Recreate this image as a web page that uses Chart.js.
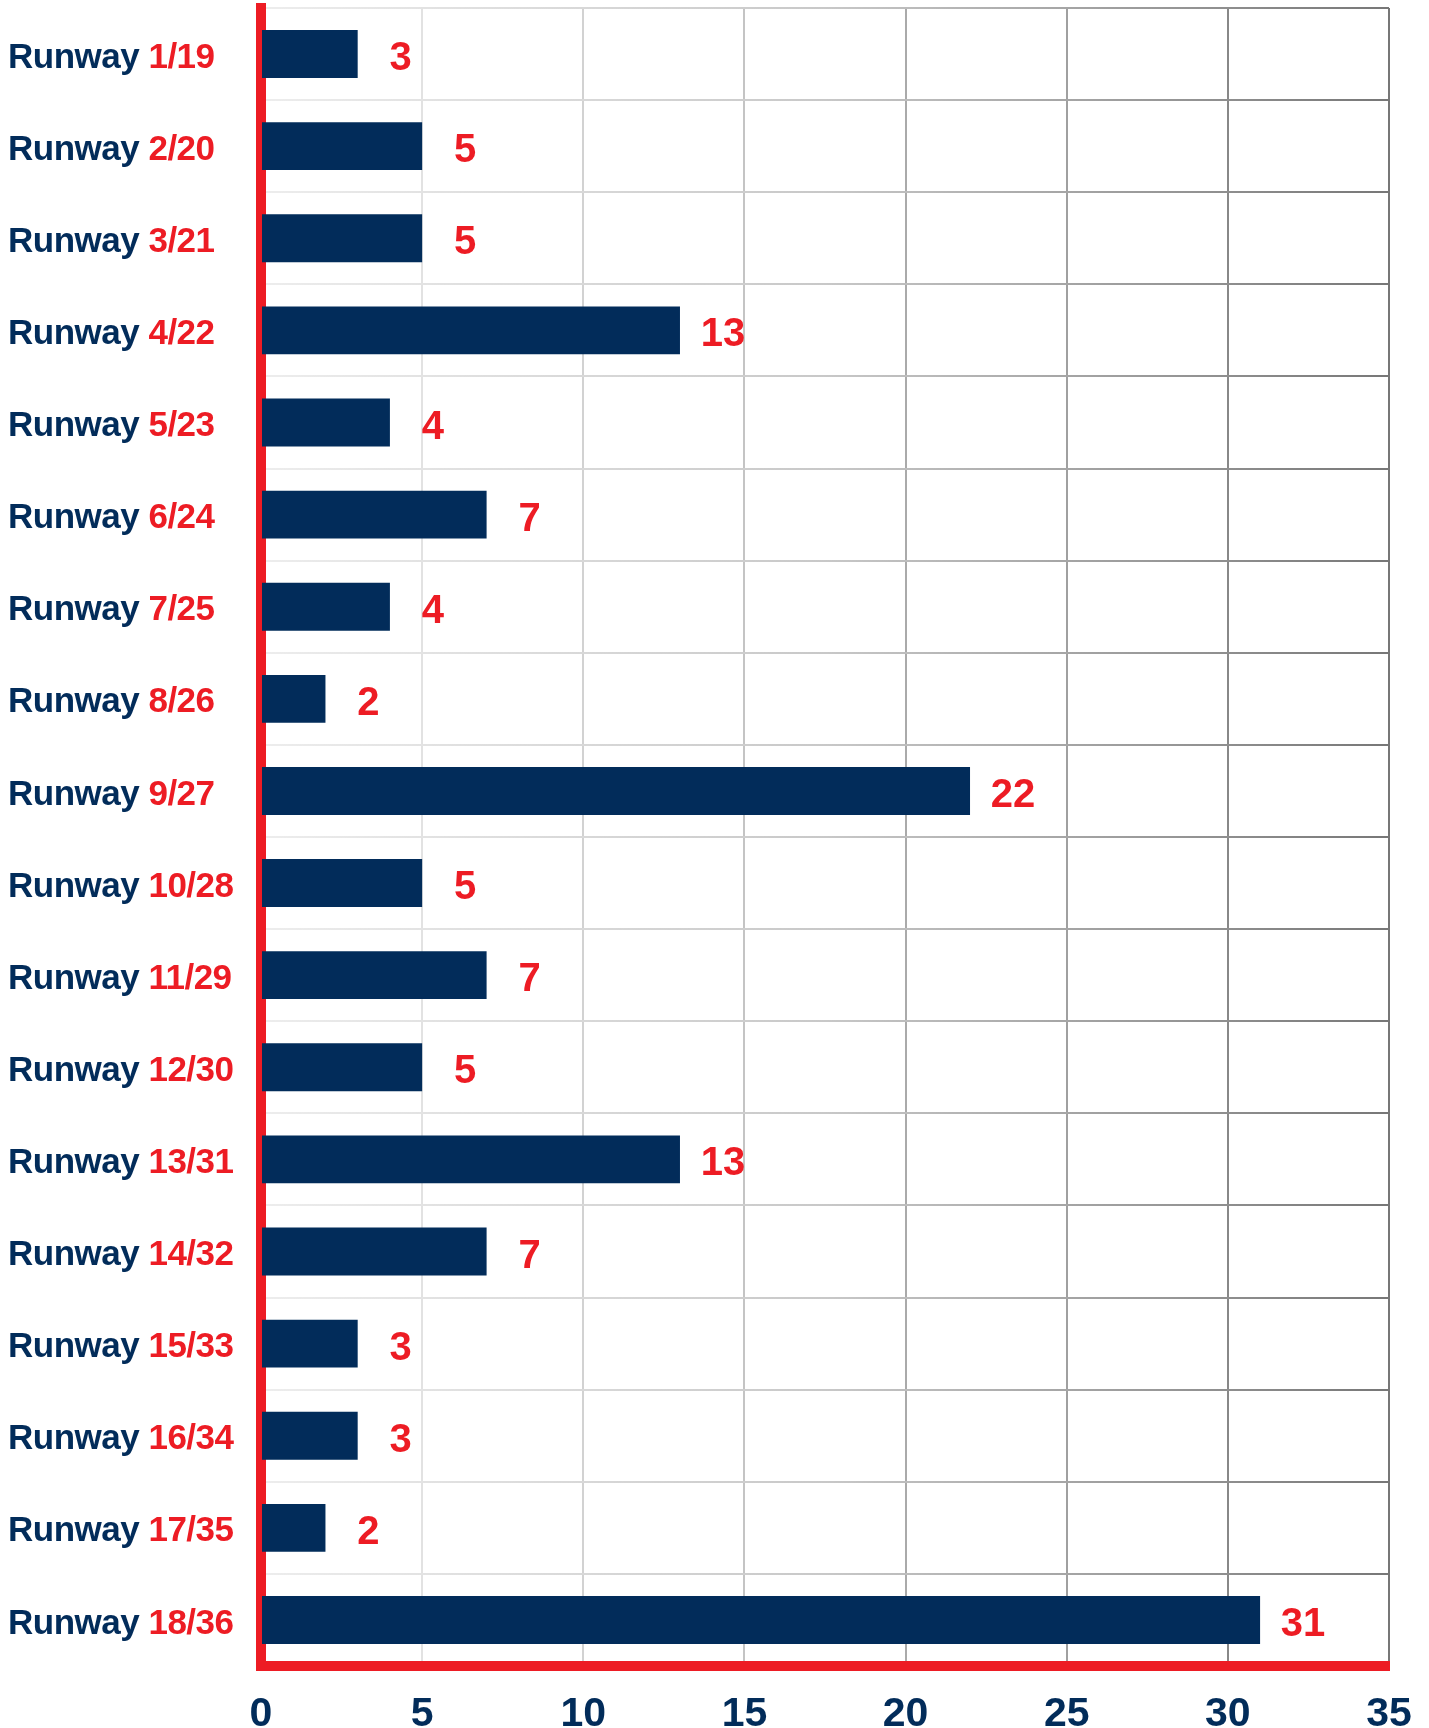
<!DOCTYPE html>
<html lang="en">
<head>
    <meta charset="UTF-8">
    <title>Runways</title>
    <script src="https://cdn.jsdelivr.net/npm/chart.js"></script>
    <style>
        body { margin: 0; background: #fff; }
        #wrap { width: 1429px; height: 1728px; position: relative; }
    </style>
</head>
<body>
    <div id="wrap"><canvas id="runwayChart"></canvas></div>

    <script>
        const prefix = 'Runway';
        const runways = ['1/19', '2/20', '3/21', '4/22', '5/23', '6/24', '7/25', '8/26', '9/27',
            '10/28', '11/29', '12/30', '13/31', '14/32', '15/33', '16/34', '17/35', '18/36'];
        const counts = [3, 5, 5, 13, 4, 7, 4, 2, 22, 5, 7, 5, 13, 7, 3, 3, 2, 31];
        const xTicks = [0, 5, 10, 15, 20, 25, 30, 35];

        const NAVY = '#022c5a';
        const RED = '#ed1c24';
        const FONT = '"Liberation Sans", Arial, Helvetica, sans-serif';
        // grid gets darker towards the right
        const gridGreys = ['#e6e6e6', '#e2e2e2', '#d2d2d2', '#c4c4c4', '#aaaaaa', '#a0a0a0', '#888888', '#777777'];

        Chart.defaults.font.family = FONT;

        // two-coloured category labels: "Runway" navy, number red
        const runwayLabels = {
            id: 'runwayLabels',
            afterDraw(chart) {
                const ctx = chart.ctx;
                const y = chart.scales.y;
                ctx.save();
                ctx.font = 'bold 35px ' + FONT;
                ctx.letterSpacing = '-0.5px';
                ctx.textBaseline = 'middle';
                ctx.textAlign = 'left';
                runways.forEach((r, i) => {
                    const py = y.getPixelForValue(i) + 4;
                    ctx.fillStyle = NAVY;
                    ctx.fillText(prefix + ' ', 8, py);
                    const w = ctx.measureText(prefix + ' ').width;
                    ctx.fillStyle = RED;
                    ctx.fillText(r, 8 + w, py);
                });
                ctx.restore();
            }
        };

        const valueLabels = {
            id: 'valueLabels',
            afterDraw(chart) {
                const ctx = chart.ctx;
                const meta = chart.getDatasetMeta(0);
                ctx.save();
                ctx.font = 'bold 40px ' + FONT;
                ctx.fillStyle = RED;
                ctx.textAlign = 'center';
                ctx.textBaseline = 'middle';
                meta.data.forEach((bar, i) => {
                    ctx.fillText(String(counts[i]), bar.x + 43, bar.y + 5);
                });
                ctx.restore();
            }
        };

        function rowGridColor(context) {
            const chart = context.chart;
            const area = chart.chartArea;
            if (!area) return '#bbbbbb';
            const g = chart.ctx.createLinearGradient(area.left, 0, area.right, 0);
            g.addColorStop(0, '#ededed');
            g.addColorStop(0.5, '#c8c8c8');
            g.addColorStop(1, '#777777');
            return g;
        }

        const ctx = document.getElementById('runwayChart').getContext('2d');
        new Chart(ctx, {
            type: 'bar',
            data: {
                labels: runways.map(r => prefix + ' ' + r),
                datasets: [{
                    data: counts,
                    backgroundColor: NAVY,
                    borderWidth: 0,
                    barPercentage: 0.52,
                    categoryPercentage: 1
                }]
            },
            options: {
                indexAxis: 'y',
                responsive: true,
                maintainAspectRatio: false,
                animation: false,
                layout: { padding: { top: 8, right: 40, left: 0, bottom: 0 } },
                plugins: {
                    legend: { display: false },
                    tooltip: { enabled: false }
                },
                scales: {
                    x: {
                        min: 0,
                        max: 35,
                        afterBuildTicks(scale) {
                            scale.ticks = xTicks.map(v => ({ value: v }));
                        },
                        afterFit(scale) {
                            scale.height = 62;
                            scale.paddingLeft = 0;
                            scale.paddingRight = 0;
                        },
                        grid: {
                            color: c => gridGreys[c.index] || '#777777',
                            lineWidth: 2,
                            drawTicks: false
                        },
                        border: { color: RED, width: 10 },
                        ticks: {
                            color: NAVY,
                            padding: 24,
                            font: { size: 41, weight: 'bold' }
                        }
                    },
                    y: {
                        z: 1,
                        afterFit(scale) { scale.width = 261; },
                        grid: {
                            color: rowGridColor,
                            lineWidth: 2,
                            drawTicks: false
                        },
                        border: { color: RED, width: 10 },
                        ticks: { display: false }
                    }
                }
            },
            plugins: [runwayLabels, valueLabels]
        });
    </script>
</body>
</html>
